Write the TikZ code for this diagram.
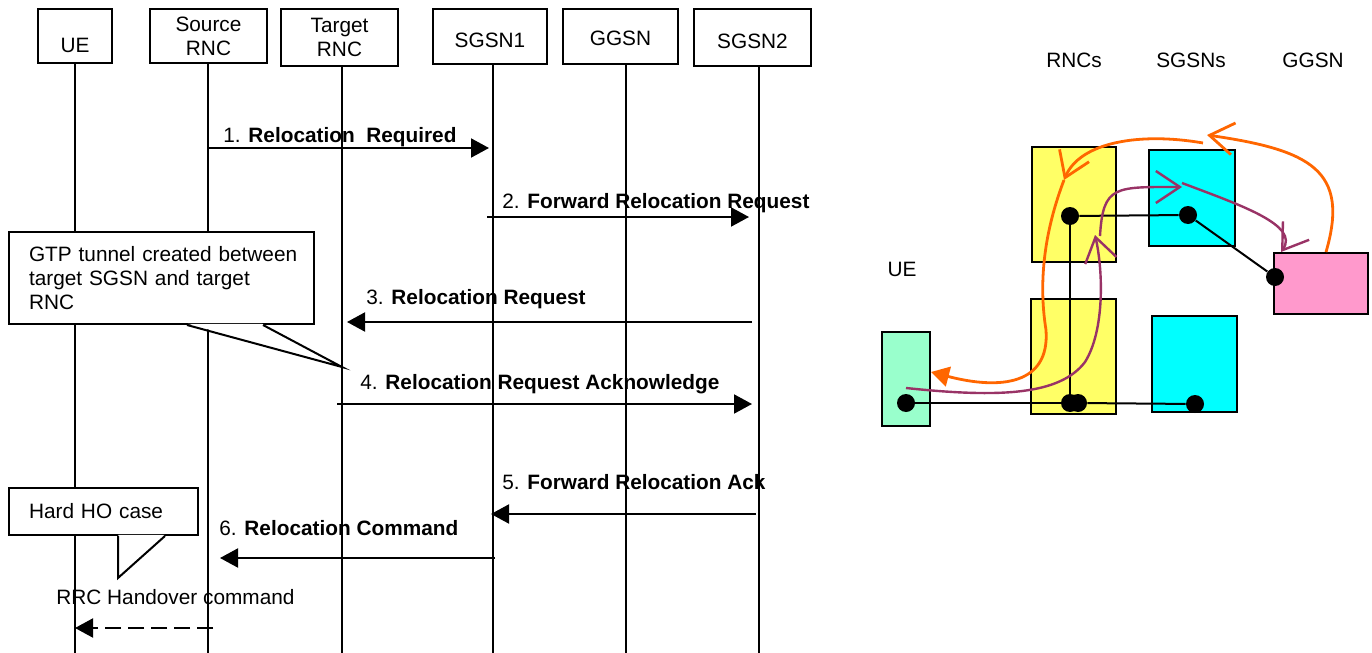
\documentclass[tikz,border=0pt]{standalone}
\usepackage{fontspec}
\setmainfont{Liberation Sans}
\usetikzlibrary{arrows.meta}
\definecolor{rncyellow}{HTML}{FFFF66}
\definecolor{sgsncyan}{HTML}{00FFFF}
\definecolor{ggsnpink}{HTML}{FF99CC}
\definecolor{uegreen}{HTML}{99FFCC}
\definecolor{flowred}{HTML}{FF6600}
\definecolor{flowplum}{HTML}{993366}
\begin{document}
\begin{tikzpicture}[x=0.5pt,y=-0.5pt,font=\fontsize{10.4}{12}\selectfont]
        \tikzset{entity/.style = {shape=rectangle,draw,line width=1pt,align=center,minimum height=27pt}}
        \tikzset{life/.style = {line width=1pt}}
        \tikzset{msg/.style = {line width=1pt,-{Triangle[length=9pt,width=9.5pt]}}}
        \tikzset{msglabel/.style = {anchor=west,inner sep=0pt,text height=7.5pt,text depth=0pt}}
        \tikzset{note/.style = {shape=rectangle,draw,fill=white,line width=1pt,anchor=north west,align=left,inner xsep=10pt}}
        \tikzset{box/.style = {shape=rectangle,draw,line width=1pt}}
        \tikzset{dot/.style = {shape=circle,fill,inner sep=0pt,minimum size=9pt}}
        \tikzset{wire/.style = {line width=1pt}}
        \tikzset{redflow/.style = {draw=flowred,line width=1.4pt}}
        \tikzset{plumflow/.style = {draw=flowplum,line width=1.2pt}}
        \tikzset{barb/.style = {-{Straight Barb[length=12pt,width=16pt]}}}
        \useasboundingbox (0,0) rectangle (1372,653);
        % entities on top
        \node[entity,minimum width=37pt,text height=16.5pt,text depth=0pt] (ue) at (75,36) {UE};
        \node[entity,minimum width=58.5pt] (src) at (208.5,36) {Source\\RNC};
        \node[entity,minimum width=58.5pt,minimum height=28.5pt] (tgt) at (339.5,37.5) {Target\\RNC};
        \node[entity,minimum width=57pt,minimum height=27.5pt,text height=11pt,text depth=0pt] (sgsn1) at (490,36.5) {SGSN1};
        \node[entity,minimum width=57.5pt,minimum height=27.5pt,text height=9pt,text depth=0pt] (ggsn) at (620.5,36.5) {GGSN};
        \node[entity,minimum width=58.5pt,minimum height=28.5pt,text height=11pt,text depth=0pt] (sgsn2) at (752.5,37.5) {SGSN2};
        % lifelines
        \coordinate (ue-l) at (75,653);
        \coordinate (src-l) at (208,653);
        \coordinate (tgt-l) at (342,653);
        \coordinate (sgsn1-l) at (493,653);
        \coordinate (ggsn-l) at (626,653);
        \coordinate (sgsn2-l) at (759,653);
        \draw[life] (ue.south -| ue-l) -- (ue-l);
        \draw[life] (src.south -| src-l) -- (src-l);
        \draw[life] (tgt.south -| tgt-l) -- (tgt-l);
        \draw[life] (sgsn1.south -| sgsn1-l) -- (sgsn1-l);
        \draw[life] (ggsn.south -| ggsn-l) -- (ggsn-l);
        \draw[life] (sgsn2.south -| sgsn2-l) -- (sgsn2-l);
        % messages
        \draw[msg,shorten >=2pt] (src-l |- 0,148) -- (sgsn1-l |- 0,148);
        \node[msglabel] (m1) at (223,135) {1. \textbf{Relocation~ Required}};
        \draw[msg,shorten <=-3pt,shorten >=5pt] (sgsn1-l |- 0,217) -- (sgsn2-l |- 0,217);
        \node[msglabel] (m2) at (502,201) {2. \textbf{Forward Relocation Request}};
        \draw[msg,shorten <=3.5pt,shorten >=2.5pt] (sgsn2-l |- 0,322) -- (tgt-l |- 0,322);
        \node[msglabel] (m3) at (366,297) {3. \textbf{Relocation Request}};
        \draw[msg,shorten <=-2.5pt,shorten >=3.5pt] (tgt-l |- 0,404) -- (sgsn2-l |- 0,404);
        \node[msglabel] (m4) at (360,382) {4. \textbf{Relocation Request Acknowledge}};
        \draw[msg,shorten <=1.5pt,shorten >=-1pt] (sgsn2-l |- 0,514) -- (sgsn1-l |- 0,514);
        \node[msglabel] (m5) at (502,482) {5. \textbf{Forward Relocation Ack}};
        \draw[msg,shorten <=-1pt,shorten >=6pt] (sgsn1-l |- 0,558) -- (src-l |- 0,558);
        \node[msglabel] (m6) at (219,528) {6. \textbf{Relocation Command}};
        % callouts
        \node[note,minimum width=152.5pt,minimum height=46pt,text width=132.5pt] (gtp) at (8,231) {\mbox{GTP tunnel created between}\\target SGSN and target\\RNC};
        \coordinate (gtp-tip) at (342,367);
        \fill[white] ([yshift=0.6pt]gtp.south -| 188,0) -- (gtp-tip) -- ([yshift=0.6pt]gtp.south -| 262,0) -- cycle;
        \draw[line width=1pt] (gtp.south -| 187,0) -- (gtp-tip) -- (gtp.south -| 263,0);
        \node[note,minimum width=94.5pt,minimum height=23.5pt,text width=74.5pt] (hard) at (8,487) {Hard HO case};
        \coordinate (hard-tip) at (118,578);
        \fill[white] ([yshift=0.6pt]hard.south -| 118.5,0) -- (hard-tip) -- ([yshift=0.6pt]hard.south -| 164.5,0) -- cycle;
        \draw[line width=1pt] (hard.south -| 118,0) -- (hard-tip) -- (hard.south -| 165,0);
        % RRC step
        \node[msglabel] (rrc) at (56,597) {RRC Handover command};
        \draw[msg,dash pattern=on 8pt off 3.5pt,shorten <=-2.5pt] (src-l |- 0,628) -- (ue-l |- 0,628);
        % network view on the right
        \node (rncs) at (1074,60) {RNCs};
        \node (sgsns) at (1191,60) {SGSNs};
        \node (ggsnl) at (1313,60) {GGSN};
        \node (uel) at (902,269) {UE};
        \node[box,fill=rncyellow,minimum width=42pt,minimum height=57.5pt] (rnc1) at (1074,204.5) {};
        \node[box,fill=sgsncyan,minimum width=43pt,minimum height=48pt] (sgsn1b) at (1192,198) {};
        \node[box,fill=ggsnpink,minimum width=47pt,minimum height=30.5pt] (ggsnb) at (1321,283.5) {};
        \node[box,fill=rncyellow,minimum width=42.5pt,minimum height=57.5pt] (rnc2) at (1073.5,356.5) {};
        \node[box,fill=sgsncyan,minimum width=42.5pt,minimum height=48pt] (sgsn2b) at (1194.5,364) {};
        \node[box,fill=uegreen,minimum width=24pt,minimum height=47pt] (uebox) at (906,379) {};
        % tunnel end points
        \node[dot] (d1) at (1070,216) {};
        \node[dot] (d2) at (1188,215) {};
        \node[dot] (d3) at (1275,277) {};
        \node[dot] (d4) at (906,403) {};
        \node[dot] (d5a) at (1070,403) {};
        \node[dot] (d5b) at (1078,403) {};
        \node[dot] (d6) at (1195,404) {};
        \draw[wire] (d1) -- (d2);
        \draw[wire] (d2) -- (d3);
        \draw[wire] (d1) -- (d5a);
        \draw[wire] (d4) -- (d5a);
        \draw[wire] (d5b) -- (d6);
        % downlink path before relocation
        \coordinate (o1) at (1207,135);
        \coordinate (o2) at (1203,143);
        \coordinate (o3) at (1064,180);
        \draw[redflow,barb] ([xshift=2.5pt]ggsnb.north) .. controls (1350,170) and (1310,150) .. (o1);
        \draw[redflow,barb] (o2) .. controls (1140,132) and (1080,142) .. (o3);
        \draw[redflow,-{Triangle[length=9pt,width=10pt]}] (o3) .. controls (1045,230) and (1038,280) .. (1046,330) .. controls (1050,385) and (1000,390) .. ([yshift=3.5pt]uebox.east);
        % uplink path after relocation
        \coordinate (p1) at (1095,235);
        \coordinate (p2) at (1100,236);
        \coordinate (p3) at (1182,187);
        \coordinate (p4) at (1182,183);
        \draw[plumflow,barb] ([yshift=7.5pt]d4.center) .. controls (1000,398) and (1060,395) .. (1085,362) .. controls (1105,330) and (1103,270) .. (p1);
        \draw[plumflow,barb] (p2) .. controls (1103,185) and (1115,187) .. (p3);
        \draw[plumflow,barb] (p4) .. controls (1240,205) and (1300,225) .. ([xshift=4pt]ggsnb.north west);
\end{tikzpicture}
\end{document}
